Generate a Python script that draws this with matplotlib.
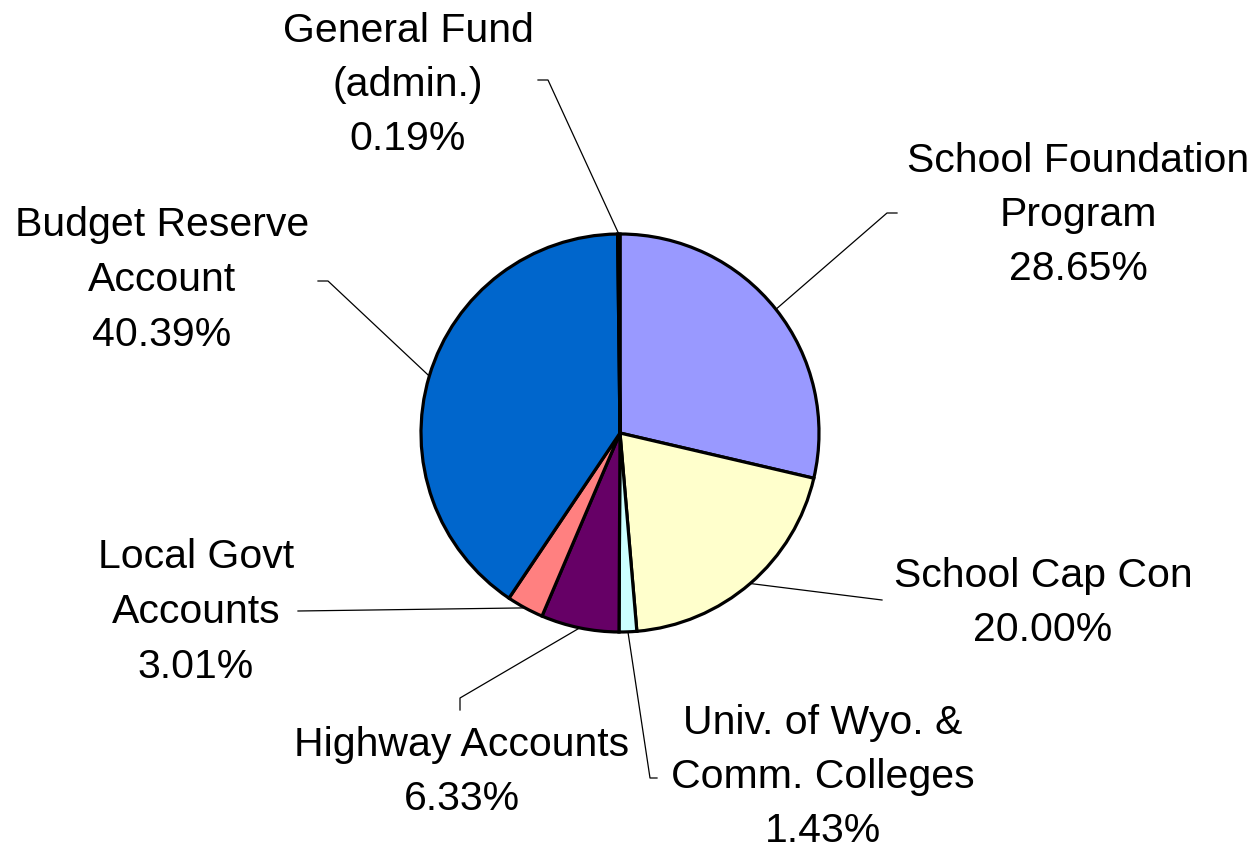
import matplotlib
matplotlib.use("Agg")
import matplotlib.pyplot as plt
import numpy as np

# pie data, clockwise from 12 o'clock
names = ["School Foundation\nProgram", "School Cap Con", "Univ. of Wyo. &\nComm. Colleges",
         "Highway Accounts", "Local Govt\nAccounts", "Budget Reserve\nAccount",
         "General Fund\n(admin.)"]
shares = [28.65, 20.00, 1.43, 6.33, 3.01, 40.39, 0.19]
colors = ["#9999FF", "#FFFFCC", "#CCFFFF", "#660066", "#FF8080", "#0066CC", "#000000"]

W, H = 1258, 852
cx, cy, r = 620, 433, 199   # pie centre / radius in pixels (from top)

# label centre and leader line elbow/end, pixel coords from top-left
label_pos = [(1078, 215), (1043, 603), (823, 777), (462, 772), (196, 612), (162, 280), (408, 85)]
leader = [[(887, 213), (897, 213)],
          [(882, 600)],
          [(650, 778), (657, 778)],
          [(460, 698), (460, 710)],
          [(298, 611)],
          [(328, 281), (318, 281)],
          [(548, 80), (538, 80)]]

plt.rcParams["font.family"] = ["Liberation Sans", "DejaVu Sans"]

fig = plt.figure(figsize=(W / 100, H / 100), dpi=100)
ax = fig.add_axes([0, 0, 1, 1])

wedges, _ = ax.pie(shares, colors=colors, startangle=90, counterclock=False,
                   center=(cx, H - cy), radius=r, frame=True,
                   wedgeprops=dict(edgecolor="black", linewidth=2.3))
ax.set_xlim(0, W)
ax.set_ylim(0, H)
ax.set_aspect("equal")
ax.axis("off")

for w, name, val, (lx, ly), pts in zip(wedges, names, shares, label_pos, leader):
    # leader starts on the rim at the middle of the slice
    mid = np.deg2rad((w.theta1 + w.theta2) / 2)
    x0 = cx + r * np.cos(mid)
    y0 = (H - cy) + r * np.sin(mid)
    xs = [x0] + [p[0] for p in pts]
    ys = [y0] + [H - p[1] for p in pts]
    ax.plot(xs, ys, color="black", lw=0.9, zorder=0)
    ax.text(lx, H - ly, f"{name}\n{val:.2f}%", ha="center", va="center",
            multialignment="center", fontsize=29.5, linespacing=1.55)

fig.savefig("out.png", dpi=100)
